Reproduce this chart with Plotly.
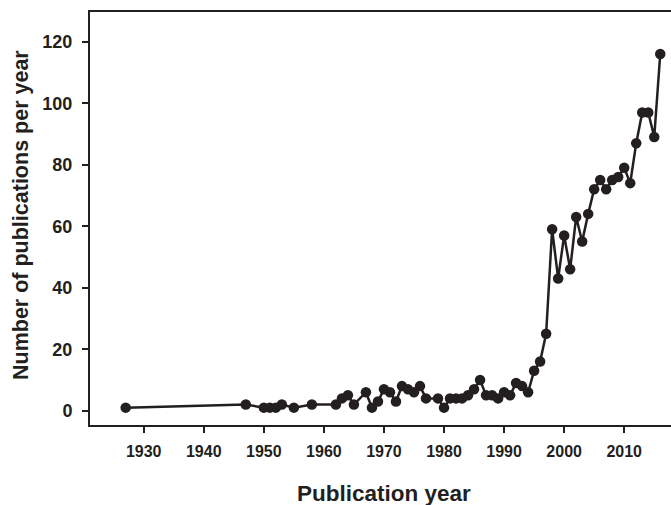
import plotly.graph_objects as go

years = [1927, 1947, 1950, 1951, 1952, 1953, 1955, 1958, 1962, 1963, 1964, 1965,
         1967, 1968, 1969, 1970, 1971, 1972, 1973, 1974, 1975, 1976, 1977, 1979,
         1980, 1981, 1982, 1983, 1984, 1985, 1986, 1987, 1988, 1989, 1990, 1991,
         1992, 1993, 1994, 1995, 1996, 1997, 1998, 1999, 2000, 2001, 2002, 2003,
         2004, 2005, 2006, 2007, 2008, 2009, 2010, 2011, 2012, 2013, 2014, 2015, 2016]
counts = [1, 2, 1, 1, 1, 2, 1, 2, 2, 4, 5, 2,
          6, 1, 3, 7, 6, 3, 8, 7, 6, 8, 4, 4,
          1, 4, 4, 4, 5, 7, 10, 5, 5, 4, 6, 5,
          9, 8, 6, 13, 16, 25, 59, 43, 57, 46, 63, 55,
          64, 72, 75, 72, 75, 76, 79, 74, 87, 97, 97, 89, 116]

x_ticks = [1930, 1940, 1950, 1960, 1970, 1980, 1990, 2000, 2010]
y_ticks = [0, 20, 40, 60, 80, 100, 120]
x_title = "Publication year"
y_title = "Number of publications per year"

INK = "#231f20"
FONT = "Liberation Sans, Arial, Helvetica, sans-serif"

fig = go.Figure()
fig.add_trace(go.Scatter(
    x=years, y=counts, mode="lines+markers",
    line=dict(color=INK, width=2.5),
    marker=dict(color=INK, size=10.5),
    showlegend=False, hoverinfo="x+y", cliponaxis=False,
))

fig.update_layout(
    width=671, height=505,
    margin=dict(l=90, r=0, t=12, b=80, pad=0),
    paper_bgcolor="white", plot_bgcolor="white",
    font=dict(family=FONT, color=INK),
    xaxis=dict(
        range=[1921.06, 2017.79], tickvals=x_ticks, ticktext=[str(v) for v in x_ticks],
        showgrid=False, zeroline=False,
        showline=True, linecolor=INK, linewidth=2, mirror=True,
        ticks="outside", ticklen=6, tickwidth=2, tickcolor=INK,
        tickfont=dict(family=FONT, size=16, color=INK, weight="bold"),
        ticklabelstandoff=5,
    ),
    yaxis=dict(
        range=[-4.65, 129.66], tickvals=y_ticks, ticktext=[str(v) for v in y_ticks],
        showgrid=False, zeroline=False,
        showline=True, linecolor=INK, linewidth=2, mirror=False,
        ticks="outside", ticklen=6, tickwidth=2, tickcolor=INK,
        tickfont=dict(family=FONT, size=18, color=INK, weight="bold"),
        ticklabelstandoff=6,
    ),
    annotations=[
        dict(text=x_title, xref="paper", yref="paper", x=0.5, y=0,
             xanchor="center", yanchor="middle", xshift=3, yshift=-68,
             showarrow=False, font=dict(family=FONT, size=22.5, color=INK, weight="bold")),
        dict(text=y_title, xref="paper", yref="paper", x=0, y=0.5,
             xanchor="center", yanchor="middle", xshift=-69, yshift=3.5, textangle=-90,
             showarrow=False, font=dict(family=FONT, size=21.5, color=INK, weight="bold")),
    ],
)

fig.write_html(
    "out.html",
    config={"displayModeBar": False},
    post_script="document.body.style.margin='0';document.body.style.overflow='hidden';",
)
